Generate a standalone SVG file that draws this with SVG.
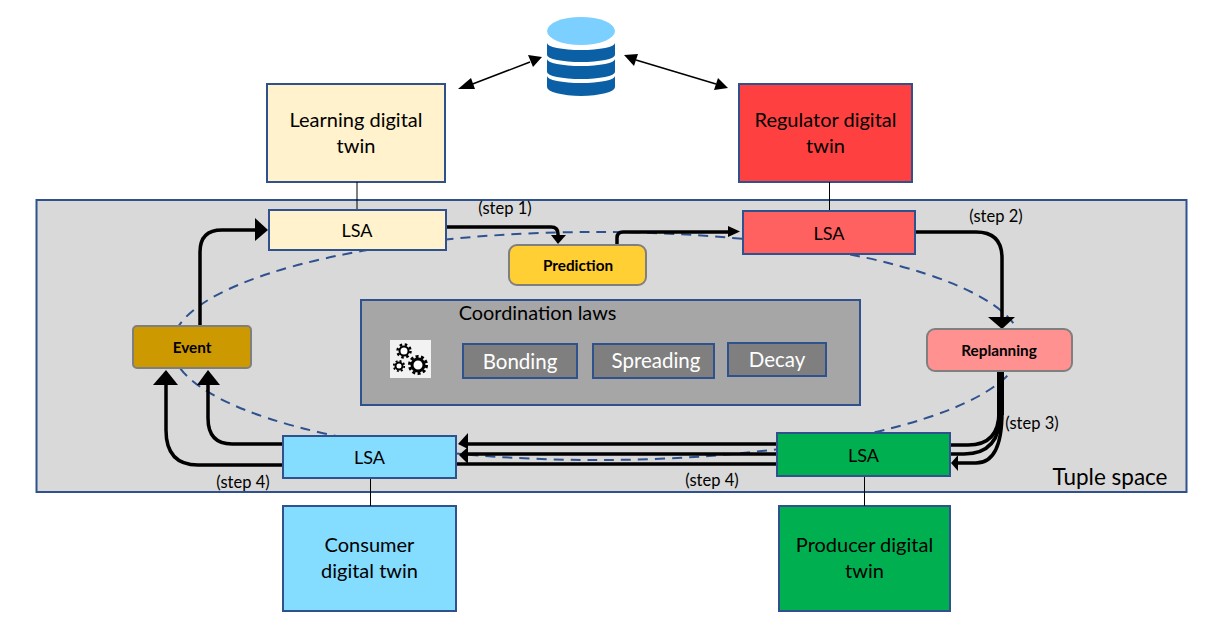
<svg xmlns="http://www.w3.org/2000/svg" width="1207" height="636" viewBox="0 0 1207 636">
<style>
text{font-family:"Lato","Open Sans","Liberation Sans",sans-serif;fill:#000;text-anchor:middle}
.b{stroke:#2f528f;stroke-width:2}
.n{font-size:20px}
.s{font-size:16.500px}
.r{stroke:#7f7f7f;stroke-width:2}
.h{font-size:15.300px;font-weight:700}
.w{font-size:20.500px;fill:#fff}
.a{font-size:18px}
.c{fill:none;stroke:#000;stroke-width:3.500}
.l{fill:none;stroke:#000;stroke-width:1}
.d{fill:none;stroke:#000;stroke-width:1.500}
.k{fill:#000;stroke:none}
.g{fill:none;stroke:#000;stroke-linecap:butt}
</style>
<rect width="1207" height="636" fill="#fff"/>
<g id="tuple-space"><rect x="36.500" y="200" width="1150" height="292" fill="#d9d9d9" class="b"/><text x="1110" y="485" style="font-size:22.500px">Tuple space</text></g>
<ellipse id="orbit" cx="597" cy="346" rx="425" ry="114" fill="none" stroke="#2f528f" stroke-width="2" stroke-dasharray="10 7"/>
<g id="database">
<path d="M547 43A34 7 0 0 0 615 43V55A34 7 0 0 1 547 55Z" fill="#0b5fa5"/>
<path d="M547 59A34 7 0 0 0 615 59V72A34 7 0 0 1 547 72Z" fill="#0b5fa5"/>
<path d="M547 76A34 7 0 0 0 615 76V87A34 9 0 0 1 547 87Z" fill="#0b5fa5"/>
<ellipse cx="581" cy="31" rx="34" ry="14" fill="#7bd0ff"/>
</g>
<g id="learning-twin"><rect x="267" y="84" width="178" height="98" fill="#fff2cc" class="b"/><text class="n" x="356" y="127">Learning digital</text><text class="n" x="356" y="153">twin</text></g>
<g id="regulator-twin"><rect x="739" y="84" width="173" height="98" fill="#ff4040" class="b"/><text class="n" x="825.500" y="127">Regulator digital</text><text class="n" x="825.500" y="153">twin</text></g>
<g id="consumer-twin"><rect x="283" y="506" width="173" height="105" fill="#84dcff" class="b"/><text class="n" x="369.500" y="552">Consumer</text><text class="n" x="369.500" y="578">digital twin</text></g>
<g id="producer-twin"><rect x="779" y="506" width="171" height="105" fill="#00b050" class="b"/><text class="n" x="864.500" y="552">Producer digital</text><text class="n" x="864.500" y="578">twin</text></g>
<g id="connectors">
<path class="l" d="M357 182V210M829.500 182V211M370.500 478V506M864.500 476V506"/>
<path class="d" d="M470 85L530 62"/><path class="k" d="M458 89L471 78L475 89z"/><path class="k" d="M542 57L533 67L528 55z"/>
<path class="d" d="M636 60L716 84"/><path class="k" d="M624 55L638 54L634 66z"/><path class="k" d="M728 88L714 90L718 78z"/>
<path class="c" d="M200 326V252Q200 230 222 230H256"/><path class="k" d="M268 230L255 218V241z"/>
<path class="c" d="M444 227H551Q558 227 558 234V236"/><path class="k" d="M558 244L551 235H566z"/>
<path class="c" d="M617 245V238Q617 232 623 232H730"/><path class="k" d="M740 231.500L728 226V237z"/>
<path class="c" d="M915 232H976Q1002 232 1002 258V318"/><path class="k" d="M1002 329L988 317H1015z"/>
<path fill="none" stroke="#000" stroke-width="7" d="M1000.500 372V415"/>
<path class="c" d="M999 412Q999 445 968 445H950"/>
<path class="c" d="M1000.500 412Q1000.500 454 964 454H950"/>
<path class="c" d="M1002 412Q1002 463 976 463H958"/><path class="k" d="M951 463L958 455V471z"/>
<path class="c" d="M777 444H467"/><path class="k" d="M458 444L468 433V449z"/>
<path class="c" d="M777 454H467"/><path class="k" d="M459 455L468 447V464z"/>
<path class="c" d="M777 464H456"/>
<path class="c" d="M283 444H232Q208 444 208 418V381"/><path class="k" d="M208 370L197 385H220z"/>
<path class="c" d="M283 465H198Q166 465 166 430V381"/><path class="k" d="M166 370L153 385H178z"/>
</g>
<g id="lsa-learning"><rect x="269" y="210" width="177" height="40" fill="#fff2cc" class="b"/><text class="a" x="357" y="237">LSA</text></g>
<g id="lsa-regulator"><rect x="743" y="211" width="172" height="43" fill="#ff6161" class="b"/><text class="a" x="829" y="240">LSA</text></g>
<g id="lsa-consumer"><rect x="283" y="436" width="173" height="42" fill="#84dcff" class="b"/><text class="a" x="369.500" y="464">LSA</text></g>
<g id="lsa-producer"><rect x="777" y="433" width="173" height="43" fill="#00b050" class="b"/><text class="a" x="863.500" y="462">LSA</text></g>
<g id="prediction"><rect x="509" y="245" width="137" height="40" rx="8" fill="#ffcf33" class="r"/><text class="h" x="578" y="271">Prediction</text></g>
<g id="event"><rect x="133" y="326" width="118" height="42" rx="4" fill="#cc9900" class="r"/><text class="h" x="192" y="353">Event</text></g>
<g id="replanning"><rect x="927" y="329" width="145" height="42" rx="8" fill="#ff9191" class="r"/><text class="h" x="999" y="356">Replanning</text></g>
<g id="coordination-laws"><rect x="361" y="300" width="499" height="105" fill="#a6a6a6" class="b"/><text x="537.500" y="320" style="font-size:19.900px">Coordination laws</text>
<g id="gears"><rect x="390" y="340" width="41" height="38" fill="#f2f2f2"/>
<circle cx="404" cy="351" r="4.500" fill="#fff" stroke="#000" stroke-width="2"/><circle class="g" cx="404" cy="351" r="6.500" stroke-width="2.500" stroke-dasharray="2.500 2.600"/>
<circle cx="399" cy="366" r="3.500" fill="#fff" stroke="#000" stroke-width="2"/><circle class="g" cx="399" cy="366" r="5.200" stroke-width="1.800" stroke-dasharray="2 2.080"/>
<circle cx="418" cy="365" r="6" fill="#fff" stroke="#000" stroke-width="3"/><circle class="g" cx="418" cy="365" r="8.500" stroke-width="3" stroke-dasharray="3 2.340"/></g>
<g id="bonding"><rect x="463" y="344" width="114" height="34" fill="#7f7f7f" class="b"/><text class="w" x="520" y="369">Bonding</text></g>
<g id="spreading"><rect x="593" y="344" width="121" height="34" fill="#7f7f7f" class="b"/><text class="w" x="656" y="368">Spreading</text></g>
<g id="decay"><rect x="728" y="343" width="98" height="33" fill="#7f7f7f" class="b"/><text class="w" x="777" y="367">Decay</text></g>
</g>
<g id="step-labels">
<text class="s" x="505" y="214">(step 1)</text>
<text class="s" x="996" y="222">(step 2)</text>
<text class="s" x="1032" y="429">(step 3)</text>
<text class="s" x="243" y="488">(step 4)</text>
<text class="s" x="712" y="486">(step 4)</text>
</g>
</svg>
